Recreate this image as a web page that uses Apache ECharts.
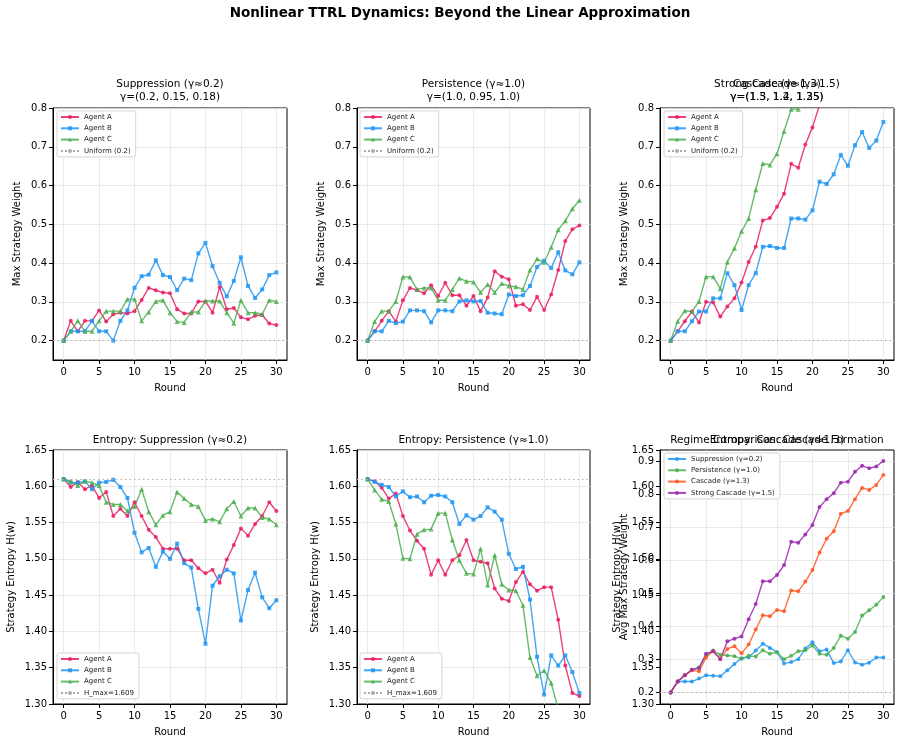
<!DOCTYPE html>
<html>
<head>
<meta charset="utf-8">
<script src="https://cdn.jsdelivr.net/npm/echarts@6/dist/echarts.min.js"></script>
<style>
html, body { margin: 0; padding: 0; background: #fff; }
#chart { width: 901px; height: 741px; }
</style>
</head>
<body>
<div id="chart"></div>
<script>
// rounds on the x axis
var rounds = [0,1,2,3,4,5,6,7,8,9,10,11,12,13,14,15,16,17,18,19,20,21,22,23,24,25,26,27,28,29,30];
var roundTicks = [0,5,10,15,20,25,30];
var weightTicks = [0.2,0.3,0.4,0.5,0.6,0.7,0.8];
var regimeTicks = [0.2,0.3,0.4,0.5,0.6,0.7,0.8,0.9];
var uniformLevel = 0.2;
var hMax = 1.609;

// max strategy weight, suppression (γ≈0.2)
var suppA = [0.200,0.251,0.224,0.251,0.251,0.278,0.249,0.268,0.272,0.270,0.276,0.305,0.336,0.330,0.324,0.322,0.281,0.270,0.270,0.301,0.301,0.272,0.338,0.281,0.284,0.260,0.255,0.264,0.266,0.244,0.240];
var suppB = [0.200,0.224,0.224,0.224,0.251,0.224,0.224,0.200,0.251,0.278,0.336,0.366,0.370,0.407,0.369,0.364,0.330,0.360,0.356,0.425,0.452,0.392,0.349,0.314,0.354,0.415,0.341,0.310,0.332,0.369,0.376];
var suppC = [0.200,0.224,0.251,0.224,0.224,0.251,0.276,0.276,0.276,0.307,0.307,0.251,0.274,0.301,0.304,0.272,0.249,0.247,0.274,0.274,0.302,0.302,0.302,0.272,0.245,0.304,0.272,0.272,0.268,0.304,0.301];
// persistence (γ≈1.0)
var persA = [0.200,0.224,0.251,0.276,0.249,0.304,0.336,0.330,0.322,0.343,0.315,0.349,0.317,0.317,0.290,0.315,0.276,0.311,0.379,0.365,0.358,0.290,0.294,0.279,0.313,0.279,0.319,0.382,0.457,0.487,0.497];
var persB = [0.200,0.224,0.224,0.251,0.245,0.249,0.278,0.278,0.276,0.247,0.278,0.278,0.276,0.301,0.304,0.301,0.302,0.272,0.270,0.268,0.319,0.315,0.317,0.341,0.390,0.406,0.387,0.428,0.381,0.371,0.402];
var persC = [0.200,0.249,0.276,0.276,0.301,0.364,0.364,0.332,0.336,0.336,0.304,0.304,0.332,0.361,0.353,0.351,0.324,0.345,0.324,0.347,0.341,0.339,0.332,0.382,0.411,0.402,0.441,0.486,0.509,0.540,0.562];
// strong cascade (γ≈1.5), only the part inside the plot
var strongA = [0.200,0.224,0.250,0.275,0.247,0.300,0.298,0.262,0.288,0.309,0.350,0.403,0.442,0.510,0.516,0.545,0.579,0.656,0.646,0.706,0.750,0.808];
var strongB = [0.200,0.224,0.224,0.250,0.275,0.275,0.309,0.309,0.374,0.343,0.279,0.343,0.374,0.442,0.444,0.439,0.439,0.515,0.515,0.512,0.536,0.610,0.604,0.629,0.679,0.651,0.704,0.738,0.697,0.716,0.764];
var strongC = [0.200,0.250,0.277,0.275,0.301,0.365,0.365,0.334,0.403,0.438,0.482,0.515,0.589,0.657,0.653,0.682,0.740,0.797,0.797,0.860];

// strategy entropy
var entSuppA = [1.610,1.599,1.606,1.596,1.601,1.584,1.592,1.559,1.569,1.559,1.578,1.559,1.540,1.530,1.514,1.514,1.514,1.498,1.498,1.487,1.480,1.485,1.467,1.499,1.519,1.542,1.532,1.548,1.559,1.578,1.566];
var entSuppB = [1.610,1.605,1.605,1.607,1.596,1.605,1.606,1.609,1.599,1.584,1.536,1.509,1.515,1.489,1.510,1.500,1.521,1.494,1.488,1.431,1.383,1.463,1.476,1.485,1.480,1.415,1.457,1.481,1.447,1.432,1.443];
var entSuppC = [1.610,1.607,1.601,1.607,1.605,1.601,1.578,1.575,1.575,1.566,1.572,1.596,1.565,1.547,1.560,1.565,1.592,1.583,1.575,1.572,1.553,1.555,1.551,1.569,1.579,1.559,1.570,1.570,1.557,1.555,1.547];
var entPersA = [1.610,1.607,1.598,1.583,1.590,1.559,1.539,1.525,1.514,1.478,1.498,1.478,1.498,1.505,1.526,1.498,1.496,1.494,1.459,1.445,1.442,1.468,1.482,1.465,1.456,1.461,1.461,1.416,1.353,1.315,1.311];
var entPersB = [1.610,1.606,1.602,1.599,1.586,1.593,1.585,1.586,1.578,1.587,1.588,1.586,1.578,1.548,1.560,1.554,1.559,1.571,1.565,1.554,1.507,1.486,1.489,1.444,1.365,1.313,1.367,1.353,1.367,1.344,1.315];
var entPersC = [1.610,1.595,1.582,1.579,1.548,1.501,1.500,1.534,1.540,1.541,1.563,1.563,1.526,1.498,1.480,1.479,1.514,1.464,1.505,1.465,1.457,1.456,1.436,1.364,1.339,1.346,1.329,1.293];

// regime comparison, avg max strategy weight
var regSupp = [0.200,0.233,0.233,0.233,0.242,0.252,0.251,0.249,0.267,0.286,0.304,0.307,0.327,0.348,0.335,0.322,0.288,0.292,0.301,0.333,0.352,0.325,0.330,0.289,0.294,0.328,0.291,0.284,0.290,0.306,0.306];
var regPers = [0.200,0.233,0.252,0.269,0.276,0.314,0.327,0.314,0.312,0.310,0.302,0.311,0.309,0.328,0.317,0.322,0.301,0.311,0.325,0.328,0.342,0.317,0.314,0.335,0.372,0.363,0.383,0.433,0.449,0.466,0.489];
var regCasc = [0.200,0.233,0.252,0.267,0.264,0.306,0.325,0.302,0.332,0.340,0.319,0.345,0.391,0.434,0.431,0.450,0.446,0.509,0.507,0.536,0.571,0.624,0.666,0.689,0.742,0.750,0.786,0.820,0.814,0.829,0.859];
var regStrong = [0.200,0.233,0.252,0.269,0.274,0.317,0.325,0.301,0.355,0.363,0.370,0.422,0.468,0.537,0.537,0.556,0.586,0.657,0.654,0.679,0.708,0.762,0.786,0.804,0.836,0.839,0.869,0.887,0.880,0.885,0.902];

var FONT = 'DejaVu Sans';
var colA = '#E91E63', colB = '#2196F3', colC = '#4CAF50';

function pairs(vals) {
    return vals.map(function (v, i) { return [rounds[i], v]; });
}

function lineSeries(name, vals, color, symbol, gi, yi) {
    return {
        type: 'line', name: name, xAxisIndex: gi, yAxisIndex: yi,
        data: pairs(vals),
        symbol: symbol, symbolSize: symbol === 'triangle' ? 5 : 4,
        showSymbol: true, clip: true,
        lineStyle: { width: 1.4, color: color, opacity: 0.85 },
        itemStyle: { color: color, opacity: 0.85 }
    };
}

function refSeries(name, level, gi, yi) {
    return {
        type: 'line', name: name, xAxisIndex: gi, yAxisIndex: yi, data: [],
        symbol: 'none', color: '#aaa',
        lineStyle: { type: 'dotted', color: '#aaa', width: 1.2 },
        markLine: {
            silent: true, symbol: 'none', label: { show: false },
            lineStyle: { type: [1.5, 3], color: '#b0b0b0', width: 1.2 },
            data: [{ yAxis: level }]
        }
    };
}

var grids = [
    { left: 53, top: 108, width: 234, height: 252 },
    { left: 357, top: 108, width: 233, height: 252 },
    { left: 660, top: 108, width: 234, height: 252 },
    { left: 53, top: 450, width: 234, height: 254 },
    { left: 357, top: 450, width: 233, height: 254 },
    { left: 660, top: 450, width: 234, height: 254 }
];
grids.forEach(function (g) {
    g.show = true; g.borderColor = '#000'; g.borderWidth = 1; g.backgroundColor = 'transparent';
});

var gridLine = { show: true, lineStyle: { color: '#e4e4e4', width: 0.8 } };

function xAxisFor(i) {
    return {
        type: 'value', gridIndex: i, min: -1.5, max: 31.5,
        name: 'Round', nameLocation: 'middle', nameGap: 23,
        nameTextStyle: { fontFamily: FONT, fontSize: 10, color: '#000' },
        axisLine: { show: true, onZero: false, lineStyle: { color: '#000' } },
        axisTick: { show: true, length: 4, customValues: roundTicks, lineStyle: { color: '#000' } },
        axisLabel: { customValues: roundTicks, fontFamily: FONT, fontSize: 10, color: '#000', margin: 7 },
        splitLine: gridLine
    };
}

function yAxisFor(i, opt) {
    var ax = {
        type: 'value', gridIndex: i, position: 'left', min: opt.min, max: opt.max,
        name: opt.name, nameLocation: 'middle', nameGap: opt.gap,
        nameTextStyle: { fontFamily: FONT, fontSize: 10, color: '#000' },
        axisLine: { show: true, onZero: false, lineStyle: { color: '#000' } },
        axisTick: { show: true, length: 4, lineStyle: { color: '#000' } },
        axisLabel: { fontFamily: FONT, fontSize: 10, color: '#000', margin: 6,
            formatter: function (v) { return v.toFixed(opt.dec); } },
        splitLine: opt.noGrid ? { show: false } : gridLine
    };
    if (opt.ticks) {
        ax.axisTick.customValues = opt.ticks;
        ax.axisLabel.customValues = opt.ticks;
    } else {
        ax.interval = opt.interval;
    }
    return ax;
}

var wOpt = function (name) { return { min: 0.15, max: 0.8, ticks: weightTicks, dec: 1, name: name, gap: 31 }; };
var hOpt = { min: 1.3, max: 1.65, interval: 0.05, dec: 2, name: 'Strategy Entropy H(w)', gap: 37 };

var yAxes = [
    yAxisFor(0, wOpt('Max Strategy Weight')),
    yAxisFor(1, wOpt('Max Strategy Weight')),
    yAxisFor(2, wOpt('Max Strategy Weight')),
    yAxisFor(3, hOpt),
    yAxisFor(4, hOpt),
    yAxisFor(5, { min: 0.165, max: 0.935, ticks: regimeTicks, dec: 1, name: 'Avg Max Strategy Weight', gap: 31 }),
    yAxisFor(5, { min: 1.3, max: 1.65, interval: 0.05, dec: 2, name: 'Strategy Entropy H(w)', gap: 38, noGrid: true })
];

var series = [
    lineSeries('Agent A', suppA, colA, 'circle', 0, 0),
    lineSeries('Agent B', suppB, colB, 'rect', 0, 0),
    lineSeries('Agent C', suppC, colC, 'triangle', 0, 0),
    refSeries('Uniform (0.2)', uniformLevel, 0, 0),
    lineSeries('Agent A', persA, colA, 'circle', 1, 1),
    lineSeries('Agent B', persB, colB, 'rect', 1, 1),
    lineSeries('Agent C', persC, colC, 'triangle', 1, 1),
    refSeries('Uniform (0.2)', uniformLevel, 1, 1),
    lineSeries('Agent A', strongA, colA, 'circle', 2, 2),
    lineSeries('Agent B', strongB, colB, 'rect', 2, 2),
    lineSeries('Agent C', strongC, colC, 'triangle', 2, 2),
    refSeries('Uniform (0.2)', uniformLevel, 2, 2),
    lineSeries('Agent A', entSuppA, colA, 'circle', 3, 3),
    lineSeries('Agent B', entSuppB, colB, 'rect', 3, 3),
    lineSeries('Agent C', entSuppC, colC, 'triangle', 3, 3),
    refSeries('H_max=1.609', hMax, 3, 3),
    lineSeries('Agent A', entPersA, colA, 'circle', 4, 4),
    lineSeries('Agent B', entPersB, colB, 'rect', 4, 4),
    lineSeries('Agent C', entPersC, colC, 'triangle', 4, 4),
    refSeries('H_max=1.609', hMax, 4, 4),
    lineSeries('Suppression (γ≈0.2)', regSupp, '#2196F3', 'circle', 5, 5),
    lineSeries('Persistence (γ≈1.0)', regPers, '#4CAF50', 'circle', 5, 5),
    lineSeries('Cascade (γ≈1.3)', regCasc, '#FF5722', 'circle', 5, 5),
    lineSeries('Strong Cascade (γ≈1.5)', regStrong, '#9C27B0', 'circle', 5, 5),
    refSeries('regime-floor', uniformLevel, 5, 5)
];

function legendAt(left, top, names) {
    return {
        left: left, top: top, orient: 'vertical', data: names,
        itemWidth: 18, itemHeight: 5, itemGap: 3.3,
        padding: [2, 5, 2, 3],
        backgroundColor: '#fff', borderColor: '#ccc', borderWidth: 0.8, borderRadius: 2,
        textStyle: { fontFamily: FONT, fontSize: 7, lineHeight: 8, color: '#222' },
        selectedMode: false
    };
}
var agentNames = ['Agent A', 'Agent B', 'Agent C'];

function titleAt(x, top, text, extra) {
    var t = {
        text: text, left: x, top: top, textAlign: 'center', padding: 0,
        textStyle: { fontFamily: FONT, fontSize: 10.5, fontWeight: 'normal', color: '#000', lineHeight: 13 }
    };
    if (extra) { for (var k in extra) t.textStyle[k] = extra[k]; }
    return t;
}

var option = {
    animation: false,
    backgroundColor: '#fff',
    title: [
        titleAt(460, 5, 'Nonlinear TTRL Dynamics: Beyond the Linear Approximation', { fontSize: 13.5, fontWeight: 'bold', lineHeight: 17 }),
        titleAt(170, 78, 'Suppression (γ≈0.2)\nγ=(0.2, 0.15, 0.18)'),
        titleAt(473.5, 78, 'Persistence (γ≈1.0)\nγ=(1.0, 0.95, 1.0)'),
        titleAt(777, 78, 'Cascade (γ≈1.3)\nγ=(1.3, 1.2, 1.25)'),
        titleAt(777, 78, 'Strong Cascade (γ≈1.5)\nγ=(1.5, 1.4, 1.35)'),
        titleAt(170, 434, 'Entropy: Suppression (γ≈0.2)'),
        titleAt(473.5, 434, 'Entropy: Persistence (γ≈1.0)'),
        titleAt(777, 434, 'Entropy: Cascade (γ≈1.3)'),
        titleAt(777, 434, 'Regime Comparison: Cascade Formation')
    ],
    legend: [
        legendAt(57, 111, agentNames.concat(['Uniform (0.2)'])),
        legendAt(360, 111, agentNames.concat(['Uniform (0.2)'])),
        legendAt(664, 111, agentNames.concat(['Uniform (0.2)'])),
        legendAt(57, 653, agentNames.concat(['H_max=1.609'])),
        legendAt(360, 653, agentNames.concat(['H_max=1.609'])),
        legendAt(664, 453, ['Suppression (γ≈0.2)', 'Persistence (γ≈1.0)', 'Cascade (γ≈1.3)', 'Strong Cascade (γ≈1.5)'])
    ],
    grid: grids,
    xAxis: [0, 1, 2, 3, 4, 5].map(xAxisFor),
    yAxis: yAxes,
    series: series
};

var myChart = echarts.init(document.getElementById('chart'));
myChart.setOption(option);
</script>
</body>
</html>
